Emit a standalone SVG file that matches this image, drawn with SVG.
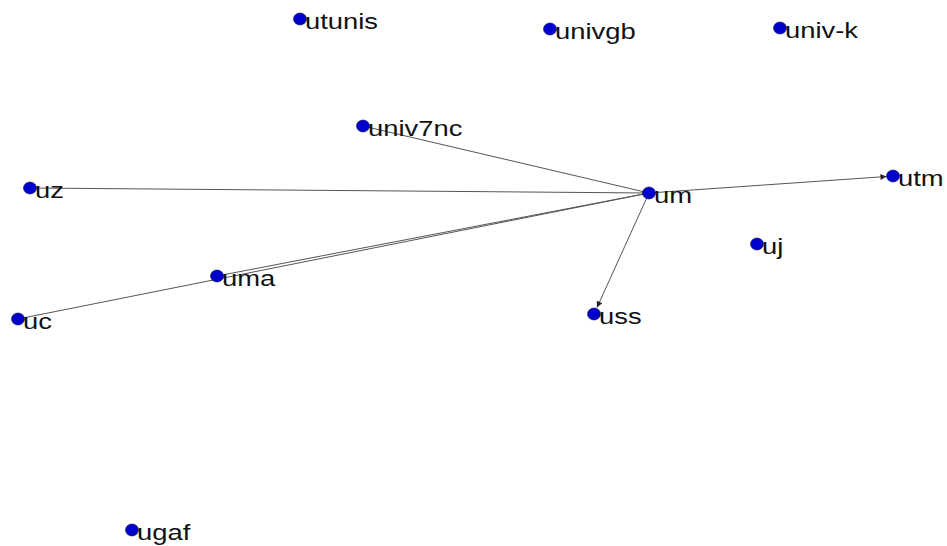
<svg xmlns="http://www.w3.org/2000/svg" width="947" height="546" viewBox="0 0 947 546">
<style>
.dot{fill:#0000cc;stroke:#00005a;stroke-width:0.6}
.lbl{font-family:"Liberation Sans",Arial,sans-serif;font-size:22px;fill:#111}
.edge{stroke:#555;stroke-width:1;fill:none}
</style>
<defs>
<marker id="arr" viewBox="0 0 10 10" refX="10" refY="5" markerWidth="8" markerHeight="6" markerUnits="userSpaceOnUse" orient="auto">
<path d="M0,0 L10,5 L0,10 Z" fill="#222"/>
</marker>
</defs>
<rect width="947" height="546" fill="#fff"/>
<g id="edges">
<line class="edge" x1="363" y1="126" x2="649" y2="193"/>
<line class="edge" x1="30" y1="188" x2="649" y2="193"/>
<line class="edge" x1="217" y1="276" x2="649" y2="193"/>
<line class="edge" x1="18" y1="319" x2="649" y2="193"/>
<line class="edge" x1="649" y1="193" x2="886.5" y2="176.5" marker-end="url(#arr)"/>
<line class="edge" x1="649" y1="193" x2="597" y2="307.5" marker-end="url(#arr)"/>
</g>
<g id="utunis"><ellipse class="dot" cx="300" cy="19" rx="6.5" ry="6"/><text class="lbl" x="305" y="28.5" textLength="73" lengthAdjust="spacingAndGlyphs">utunis</text></g>
<g id="univgb"><ellipse class="dot" cx="550" cy="29" rx="6.5" ry="6"/><text class="lbl" x="555" y="38.5" textLength="80.7" lengthAdjust="spacingAndGlyphs">univgb</text></g>
<g id="univ-k"><ellipse class="dot" cx="780" cy="28" rx="6.5" ry="6"/><text class="lbl" x="785" y="37.5" textLength="73" lengthAdjust="spacingAndGlyphs">univ-k</text></g>
<g id="univ7nc"><ellipse class="dot" cx="363" cy="126" rx="6.5" ry="6"/><text class="lbl" x="368" y="135.5" textLength="94.4" lengthAdjust="spacingAndGlyphs">univ7nc</text></g>
<g id="uz"><ellipse class="dot" cx="30" cy="188" rx="6.5" ry="6"/><text class="lbl" x="35" y="197.5" textLength="28.9" lengthAdjust="spacingAndGlyphs">uz</text></g>
<g id="um"><ellipse class="dot" cx="649" cy="193" rx="6.5" ry="6"/><text class="lbl" x="654" y="202.5" textLength="38.1" lengthAdjust="spacingAndGlyphs">um</text></g>
<g id="utm"><ellipse class="dot" cx="893" cy="176" rx="6.5" ry="6"/><text class="lbl" x="898" y="185.5" textLength="45.7" lengthAdjust="spacingAndGlyphs">utm</text></g>
<g id="uj"><ellipse class="dot" cx="757" cy="244" rx="6.5" ry="6"/><text class="lbl" x="762" y="253.5" textLength="21.3" lengthAdjust="spacingAndGlyphs">uj</text></g>
<g id="uma"><ellipse class="dot" cx="217" cy="276" rx="6.5" ry="6"/><text class="lbl" x="222" y="285.5" textLength="53.3" lengthAdjust="spacingAndGlyphs">uma</text></g>
<g id="uc"><ellipse class="dot" cx="18" cy="319" rx="6.5" ry="6"/><text class="lbl" x="23" y="328.5" textLength="28.9" lengthAdjust="spacingAndGlyphs">uc</text></g>
<g id="uss"><ellipse class="dot" cx="594" cy="314" rx="6.5" ry="6"/><text class="lbl" x="599" y="323.5" textLength="42.6" lengthAdjust="spacingAndGlyphs">uss</text></g>
<g id="ugaf"><ellipse class="dot" cx="132" cy="530" rx="6.5" ry="6"/><text class="lbl" x="137" y="539.5" textLength="53.3" lengthAdjust="spacingAndGlyphs">ugaf</text></g>
</svg>
